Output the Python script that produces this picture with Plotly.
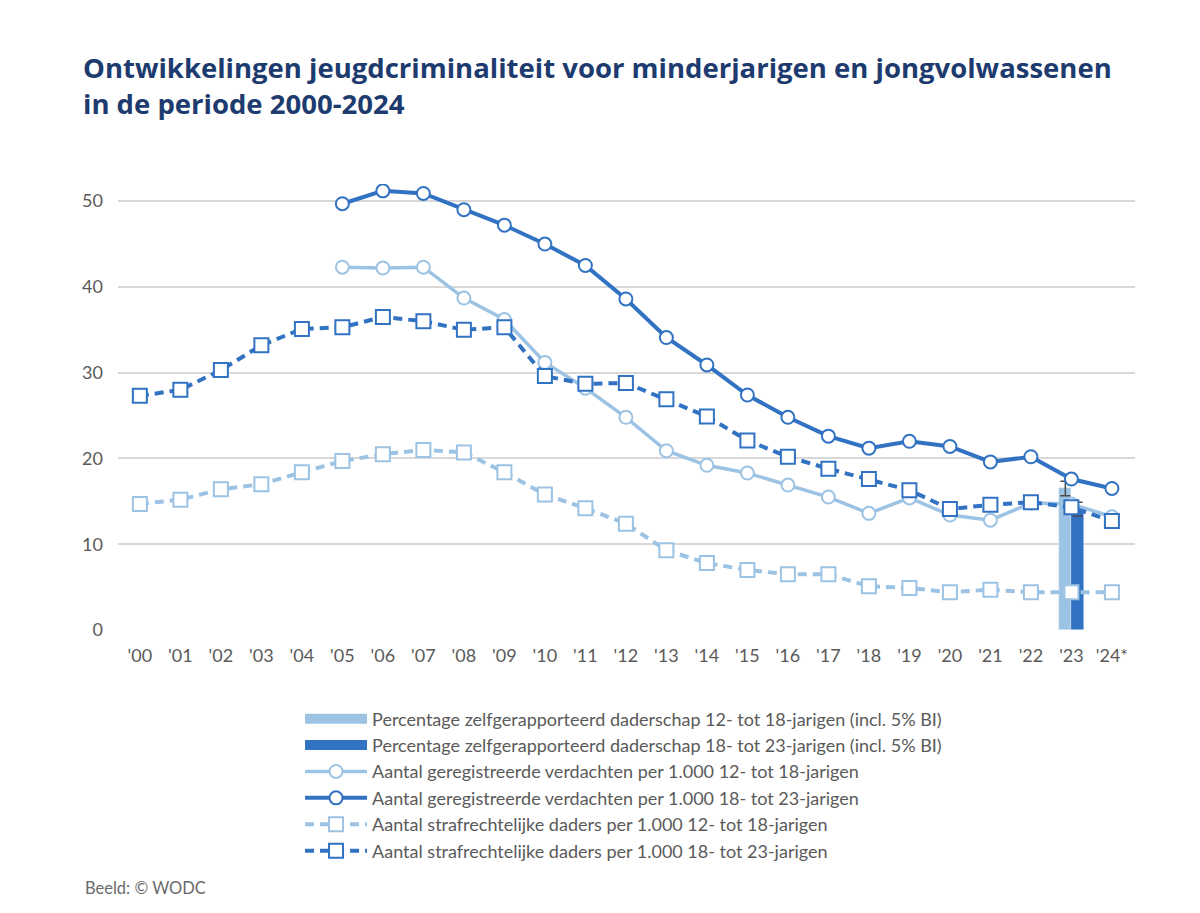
import plotly.graph_objects as go

years = list(range(2000, 2025))
tick_labels = ["'00", "'01", "'02", "'03", "'04", "'05", "'06", "'07", "'08", "'09",
               "'10", "'11", "'12", "'13", "'14", "'15", "'16", "'17", "'18", "'19",
               "'20", "'21", "'22", "'23", "'24*"]

# registered suspects per 1,000 (from 2005)
years_verd = list(range(2005, 2025))
verd_12_18 = [42.3, 42.2, 42.3, 38.7, 36.2, 31.2, 28.2, 24.8, 20.9, 19.2,
              18.3, 16.9, 15.5, 13.6, 15.4, 13.4, 12.8, 14.8, 14.7, 13.2]
verd_18_23 = [49.7, 51.2, 50.9, 49.0, 47.2, 45.0, 42.5, 38.6, 34.1, 30.9,
              27.4, 24.8, 22.6, 21.2, 22.0, 21.4, 19.6, 20.2, 17.6, 16.5]

# criminal offenders per 1,000 (from 2000)
daders_12_18 = [14.7, 15.2, 16.4, 17.0, 18.4, 19.7, 20.5, 21.0, 20.7, 18.4,
                15.8, 14.2, 12.4, 9.3, 7.8, 7.0, 6.5, 6.5, 5.1, 4.9,
                4.4, 4.7, 4.4, 4.4, 4.4]
daders_18_23 = [27.3, 28.0, 30.3, 33.2, 35.1, 35.3, 36.5, 36.0, 35.0, 35.3,
                29.6, 28.7, 28.8, 26.9, 24.9, 22.1, 20.2, 18.8, 17.6, 16.3,
                14.1, 14.6, 14.9, 14.3, 12.7]

# self-reported offending 2023 (percentage, with 95% CI half-width)
bar_year = [2023]
self_12_18 = [16.5]
self_12_18_ci = [0.85]
self_18_23 = [14.1]
self_18_23_ci = [0.8]

names = [
    "Percentage zelfgerapporteerd daderschap 12- tot 18-jarigen (incl. 5% BI)",
    "Percentage zelfgerapporteerd daderschap 18- tot 23-jarigen (incl. 5% BI)",
    "Aantal geregistreerde verdachten per 1.000 12- tot 18-jarigen",
    "Aantal geregistreerde verdachten per 1.000 18- tot 23-jarigen",
    "Aantal strafrechtelijke daders per 1.000 12- tot 18-jarigen",
    "Aantal strafrechtelijke daders per 1.000 18- tot 23-jarigen",
]

light = "#9cc3e4"
dark = "#3172c2"
grey_txt = "#5a5a5a"

fig = go.Figure()

# bars (legend drawn via dummy traces below)
fig.add_trace(go.Bar(x=bar_year, y=self_12_18, width=0.3, offset=-0.3,
                     marker_color=light, showlegend=False,
                     error_y=dict(type="data", array=self_12_18_ci, color="#4a4a4a",
                                  thickness=1.5, width=5)))
fig.add_trace(go.Bar(x=bar_year, y=self_18_23, width=0.3, offset=0.0,
                     marker_color=dark, showlegend=False,
                     error_y=dict(type="data", array=self_18_23_ci, color="#4a4a4a",
                                  thickness=1.5, width=5)))

fig.add_trace(go.Scatter(x=[None], y=[None], mode="lines", name=names[0],
                         line=dict(color=light, width=11), legendgroup="a"))
fig.add_trace(go.Scatter(x=[None], y=[None], mode="lines", name=names[1],
                         line=dict(color=dark, width=11), legendgroup="b"))

fig.add_trace(go.Scatter(x=years_verd, y=verd_12_18, mode="lines+markers", name=names[2],
                         line=dict(color=light, width=3.5), legendgroup="c",
                         marker=dict(symbol="circle", size=13, color="white",
                                     line=dict(color=light, width=2))))
fig.add_trace(go.Scatter(x=years_verd, y=verd_18_23, mode="lines+markers", name=names[3],
                         line=dict(color=dark, width=4), legendgroup="d",
                         marker=dict(symbol="circle", size=13, color="white",
                                     line=dict(color=dark, width=2))))
fig.add_trace(go.Scatter(x=years, y=daders_12_18, mode="lines+markers", name=names[4],
                         line=dict(color=light, width=4, dash="9px,6px"), legendgroup="e",
                         marker=dict(symbol="square", size=14, color="white",
                                     line=dict(color=light, width=2))))
fig.add_trace(go.Scatter(x=years, y=daders_18_23, mode="lines+markers", name=names[5],
                         line=dict(color=dark, width=4, dash="9px,6px"), legendgroup="f",
                         marker=dict(symbol="square", size=14, color="white",
                                     line=dict(color=dark, width=2))))

fig.update_layout(
    width=1200, height=913,
    paper_bgcolor="white", plot_bgcolor="white",
    margin=dict(l=110, r=73, t=176, b=291),
    font=dict(family="Lato, sans-serif", color=grey_txt, size=16),
    title=dict(text="Ontwikkelingen jeugdcriminaliteit voor minderjarigen en jongvolwassenen"
                    "<br>in de periode 2000-2024",
               x=75 / 1200, xanchor="left", xref="container",
               y=1 - 70 / 913, yanchor="top", yref="container",
               font=dict(family="Open Sans, sans-serif", size=27.5, color="#1d3b6f",
                         weight="bold")),
    bargap=0,
    showlegend=True,
    legend=dict(x=0.179, xanchor="left", y=-0.158, yanchor="top",
                traceorder="grouped", tracegroupgap=0,
                font=dict(size=18, color=grey_txt), itemwidth=62,
                bgcolor="rgba(0,0,0,0)"),
)

fig.update_xaxes(range=[1999.46, 2024.57], tickmode="array", tickvals=years,
                 ticktext=tick_labels, showgrid=False, zeroline=False, showline=False,
                 ticks="", tickfont=dict(size=18, color=grey_txt), ticklabelstandoff=13)
fig.update_yaxes(range=[0, 52], tickvals=[0, 10, 20, 30, 40, 50], showgrid=True,
                 gridcolor="#d8d8d8", gridwidth=1.5, zeroline=False, showline=False,
                 ticks="", tickfont=dict(size=18, color=grey_txt), ticklabelstandoff=14)

fig.add_annotation(text="Beeld: © WODC", xref="paper", yref="paper",
                   x=(75 - 110) / 1017, y=(622 - 880) / 446, xanchor="left",
                   yanchor="middle", showarrow=False,
                   font=dict(size=16.5, color="#6a6a6a"))

fig.write_html("out.html")
